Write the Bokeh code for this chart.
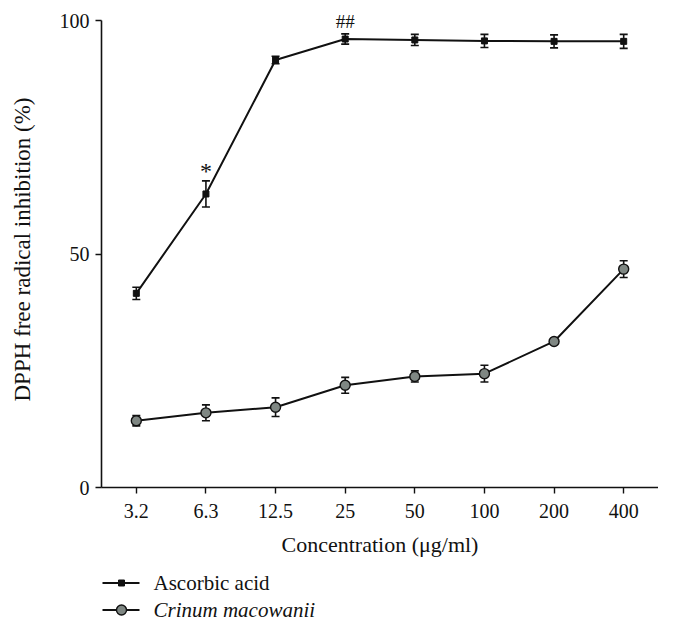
from bokeh.plotting import figure
from bokeh.layouts import column
from bokeh.models import (ColumnDataSource, Range1d, FixedTicker, Whisker, TeeHead)
from bokeh.core.properties import value
from bokeh.embed import file_html
from bokeh.resources import INLINE

# ---- data ----
concentrations = ["3.2", "6.3", "12.5", "25", "50", "100", "200", "400"]
ascorbic_mean = [41.6, 62.9, 91.6, 96.1, 95.9, 95.7, 95.6, 95.6]
ascorbic_err = [1.3, 2.8, 0.8, 1.1, 1.2, 1.4, 1.4, 1.5]
crinum_mean = [14.3, 16.0, 17.2, 21.9, 23.8, 24.4, 31.3, 46.8]
crinum_err = [1.1, 1.7, 2.0, 1.7, 1.2, 1.8, 0.6, 1.8]
series_names = ["Ascorbic acid", "Crinum macowanii"]
star_text = ["*"]
star_x = [1]
star_y = [67.8]
hash_text = ["##"]
hash_x = [3]
hash_y = [99.9]
y_ticks = [0, 50, 100]

FONT = "Liberation Serif"
INK = "#111111"
GRAY = "#7f8783"

xs = list(range(len(concentrations)))

asc_src = ColumnDataSource(dict(
    x=xs, y=ascorbic_mean,
    lo=[m - e for m, e in zip(ascorbic_mean, ascorbic_err)],
    hi=[m + e for m, e in zip(ascorbic_mean, ascorbic_err)]))
cri_src = ColumnDataSource(dict(
    x=xs, y=crinum_mean,
    lo=[m - e for m, e in zip(crinum_mean, crinum_err)],
    hi=[m + e for m, e in zip(crinum_mean, crinum_err)]))
star_src = ColumnDataSource(dict(x=star_x, y=star_y, t=star_text))
hash_src = ColumnDataSource(dict(x=hash_x, y=hash_y, t=hash_text))

FRAME_W = 557
BORDER_L = 101

p = figure(frame_width=FRAME_W, frame_height=476,
           min_border_left=BORDER_L, min_border_right=0, min_border_top=11, min_border_bottom=74,
           x_range=Range1d(-0.5, 7.5), y_range=Range1d(0, 102),
           output_backend="svg", toolbar_location=None)
p.outline_line_color = None
p.xgrid.grid_line_color = None
p.ygrid.grid_line_color = None
p.background_fill_color = "white"
p.border_fill_color = "white"

# lines
p.line("x", "y", source=asc_src, line_color=INK, line_width=2)
p.line("x", "y", source=cri_src, line_color=INK, line_width=2)

# error bars
for src in (asc_src, cri_src):
    w = Whisker(source=src, base="x", upper="hi", lower="lo",
                line_color=INK, line_width=1.6,
                upper_head=TeeHead(size=8, line_color=INK, line_width=1.6),
                lower_head=TeeHead(size=8, line_color=INK, line_width=1.6))
    w.level = "underlay"
    p.add_layout(w)

# markers
ASC_MARK = dict(marker="square", size=6, fill_color=INK, line_color=INK, line_width=1)
CRI_MARK = dict(marker="circle", size=10, fill_color=GRAY, line_color=INK, line_width=1.4)
p.scatter("x", "y", source=asc_src, **ASC_MARK)
p.scatter("x", "y", source=cri_src, **CRI_MARK)

# significance marks
p.text("x", "y", text="t", source=star_src, text_font=value(FONT),
       text_font_size="24px", text_align="center", text_baseline="middle",
       text_color=INK)
p.text("x", "y", text="t", source=hash_src, text_font=value(FONT),
       text_font_size="19px", text_align="center", text_baseline="middle",
       text_color=INK)

# axes
p.xaxis.ticker = FixedTicker(ticks=xs)
p.xaxis.major_label_overrides = {i: c for i, c in enumerate(concentrations)}
p.yaxis.ticker = FixedTicker(ticks=y_ticks)
p.yaxis.bounds = (0, 100)
for ax in (p.xaxis[0], p.yaxis[0]):
    ax.axis_line_color = INK
    ax.axis_line_width = 1.6
    ax.major_tick_line_color = INK
    ax.major_tick_line_width = 1.4
    ax.major_tick_out = 6
    ax.major_tick_in = 0
    ax.minor_tick_line_color = None
    ax.major_label_text_font = FONT
    ax.major_label_text_font_size = "20px"
    ax.major_label_text_color = INK
    ax.axis_label_text_font = FONT
    ax.axis_label_text_font_style = "normal"
    ax.axis_label_text_color = INK
p.xaxis.axis_label = "Concentration (\u03bcg/ml)"
p.yaxis.axis_label = "DPPH free radical inhibition (%)"
p.xaxis.axis_label_text_font_size = "22px"
p.yaxis.axis_label_text_font_size = "23px"
p.xaxis.major_label_standoff = 10
p.xaxis.axis_label_standoff = 11
p.yaxis.major_label_standoff = 6
p.yaxis.axis_label_standoff = 22

# ---- legend strip below the chart (pixel units, frame aligned with the chart's frame) ----
LEG_H = 61
ROW_Y = [21.5, 48.5]          # row centres in the strip
SAMPLE_X0, SAMPLE_X1, SAMPLE_XM, LABEL_X = 1, 38, 20, 52

pl = figure(frame_width=FRAME_W, frame_height=LEG_H,
            min_border_left=BORDER_L, min_border_right=0, min_border_top=0, min_border_bottom=0,
            x_range=Range1d(0, FRAME_W), y_range=Range1d(LEG_H, 0),
            x_axis_type=None, y_axis_type=None,
            output_backend="svg", toolbar_location=None)
pl.outline_line_color = None
pl.xgrid.grid_line_color = None
pl.ygrid.grid_line_color = None
pl.border_fill_color = "white"
pl.background_fill_color = "white"

pl.segment(x0=[SAMPLE_X0] * 2, x1=[SAMPLE_X1] * 2, y0=ROW_Y, y1=ROW_Y,
           line_color=INK, line_width=2)
pl.scatter(x=[SAMPLE_XM], y=[ROW_Y[0]], **ASC_MARK)
pl.scatter(x=[SAMPLE_XM], y=[ROW_Y[1]], **CRI_MARK)
pl.text(x=[LABEL_X], y=[ROW_Y[0]], text=[series_names[0]], text_font=value(FONT),
        text_font_size="21px", text_baseline="middle", text_align="left",
        text_color=INK)
pl.text(x=[LABEL_X], y=[ROW_Y[1]], text=[series_names[1]], text_font=value(FONT),
        text_font_size="21px", text_font_style="italic", text_baseline="middle",
        text_align="left", text_color=INK)

layout = column(p, pl, spacing=0)
open("out.html", "w").write(file_html(layout, INLINE))
